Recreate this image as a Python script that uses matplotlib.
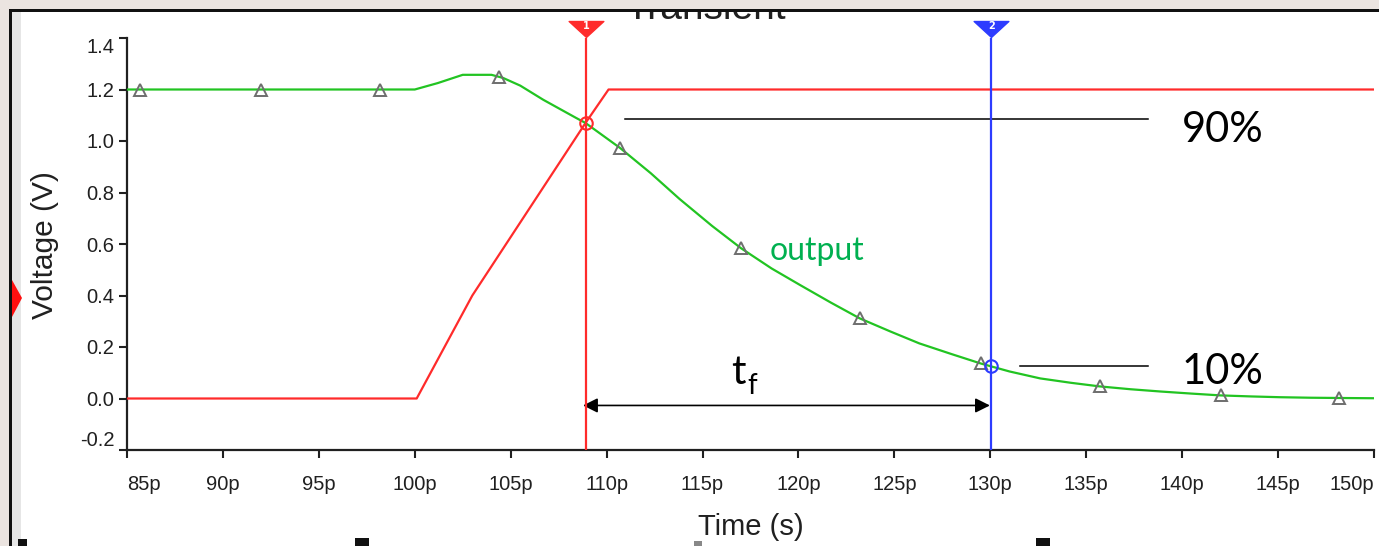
import numpy as np
import matplotlib
matplotlib.use("Agg")
import matplotlib.pyplot as plt
from matplotlib.patches import Rectangle, Polygon
from matplotlib.path import Path
import matplotlib.transforms as mtransforms

# ---------------- data ----------------
x_ticks = [85, 90, 95, 100, 105, 110, 115, 120, 125, 130, 135, 140, 145, 150]
x_tick_labels = ["85p", "90p", "95p", "100p", "105p", "110p", "115p", "120p",
                 "125p", "130p", "135p", "140p", "145p", "150p"]
y_ticks = [-0.2, 0.0, 0.2, 0.4, 0.6, 0.8, 1.0, 1.2, 1.4]
y_tick_labels = ["-0.2", "0.0", "0.2", "0.4", "0.6", "0.8", "1.0", "1.2", "1.4"]

input_t = [85.0, 100.1, 103.0, 108.9, 110.1, 150.0]
input_v = [0.0, 0.0, 0.40, 1.07, 1.2, 1.2]

output_t = [85.0, 100.0, 101.2, 102.5, 104.0, 104.6, 105.5, 106.7, 108.4, 108.9,
            110.7, 112.3, 113.8, 115.5, 117.0, 118.6, 120.1, 121.7, 123.2, 124.8,
            126.3, 128.0, 129.5, 131.0, 132.6, 134.2, 135.7, 137.3, 138.9, 140.5,
            142.0, 143.6, 145.1, 146.7, 148.2, 150.0]
output_v = [1.2, 1.2, 1.225, 1.257, 1.257, 1.245, 1.215, 1.16, 1.09, 1.07,
            0.973, 0.875, 0.775, 0.67, 0.584, 0.505, 0.44, 0.372, 0.311, 0.26,
            0.214, 0.172, 0.136, 0.105, 0.078, 0.061, 0.047, 0.036, 0.027, 0.019,
            0.012, 0.008, 0.005, 0.003, 0.002, 0.001]

marker_t = [85.7, 92.0, 98.2, 104.4, 110.7, 117.0, 123.2, 129.5, 135.7, 142.0, 148.2]

cursor1_t = 108.93
cursor2_t = 130.05

# ---------------- styles ----------------
W, H = 1379, 546
GREEN = "#22c422"
RED = "#ff2b2b"
BLUE = "#2d3cff"
TICKFONT = "Liberation Sans"
ANNFONT = "Lato"

fig = plt.figure(figsize=(W / 100, H / 100), dpi=100)
fig.patch.set_facecolor("white")

ax_l, ax_r, ax_t, ax_b = 127, 1374, 38, 450
ax = fig.add_axes([ax_l / W, 1 - ax_b / H, (ax_r - ax_l) / W, (ax_b - ax_t) / H])
ax.set_facecolor("white")
ax.set_xlim(85, 150)
ax.set_ylim(-0.2, 1.4)

for s in ["top", "right"]:
    ax.spines[s].set_visible(False)
for s in ["left", "bottom"]:
    ax.spines[s].set_linewidth(1.6)
    ax.spines[s].set_color("#202020")

ax.set_xticks(x_ticks)
ax.set_xticklabels(x_tick_labels, fontfamily=TICKFONT, fontsize=14.5)
ax.set_yticks(y_ticks)
ax.set_yticklabels(y_tick_labels, fontfamily=TICKFONT, fontsize=14.5)
ax.tick_params(axis="both", direction="out", length=6, width=1.5, color="#202020",
               labelcolor="#202020")
ax.tick_params(axis="x", pad=12)
ax.tick_params(axis="y", pad=3)

xl = ax.get_xticklabels()
xl[0].set_horizontalalignment("left")
xl[-1].set_horizontalalignment("right")
yl = ax.get_yticklabels()
yl[0].set_verticalalignment("bottom")
yl[-1].set_verticalalignment("top")

# curves
ax.plot(input_t, input_v, color=RED, lw=1.6, zorder=3)
ax.plot(output_t, output_v, color=GREEN, lw=1.6, zorder=4)
marker_v = np.interp(marker_t, output_t, output_v)
ax.plot(marker_t, marker_v, ls="none", marker="^", ms=8, mfc="none",
        mec="#6e6e6e", mew=1.4, zorder=5)

# cursors
ax.axvline(cursor1_t, color=RED, lw=1.6, zorder=6)
ax.axvline(cursor2_t, color=BLUE, lw=1.6, zorder=6)
c1v = np.interp(cursor1_t, output_t, output_v)
c2v = np.interp(cursor2_t, output_t, output_v)
ax.plot([cursor1_t], [c1v], marker="o", ms=9, mfc="none", mec=RED, mew=1.5, zorder=7)
ax.plot([cursor2_t], [c2v], marker="o", ms=9, mfc="none", mec=BLUE, mew=1.5, zorder=7)

tri = Path([(-1.0, 0.46), (1.0, 0.46), (0.0, -0.46), (-1.0, 0.46)],
           [Path.MOVETO, Path.LINETO, Path.LINETO, Path.CLOSEPOLY])
bt = mtransforms.blended_transform_factory(ax.transData, ax.transAxes)
for ct, col, lab in [(cursor1_t, RED, "1"), (cursor2_t, BLUE, "2")]:
    ax.plot([ct], [1.0 + 9 / 412], marker=tri, ms=25, color=col, mec=col,
            transform=bt, clip_on=False, zorder=8)
    ax.text(ct, 1.0 + 12 / 412, lab, transform=bt, color="white", fontsize=7,
            fontweight="bold", ha="center", va="center", clip_on=False, zorder=9,
            fontfamily="DejaVu Sans")

# annotations
ax.plot([110.96, 138.22], [1.086, 1.086], color="black", lw=1.1, zorder=5)
ax.plot([131.55, 138.22], [0.1245, 0.1245], color="black", lw=1.1, zorder=5)
ax.text(139.99, 0.996, "90%", fontfamily=ANNFONT, fontsize=30, va="baseline",
        ha="left", color="black")
ax.text(139.99, 0.058, "10%", fontfamily=ANNFONT, fontsize=30, va="baseline",
        ha="left", color="black")
ax.annotate("", xy=(108.77, -0.027), xytext=(129.98, -0.027),
            arrowprops=dict(arrowstyle="<|-|>", color="black", lw=1.2,
                            mutation_scale=22, shrinkA=0, shrinkB=0), zorder=5)
ax.text(116.5, 0.058, "t", fontfamily=ANNFONT, fontsize=29, va="baseline",
        ha="left", color="black")
ax.text(117.35, 0.019, "f", fontfamily=ANNFONT, fontsize=20, va="baseline",
        ha="left", color="black")
ax.text(118.52, 0.537, "output", fontfamily=ANNFONT, fontsize=23, va="baseline",
        ha="left", color="#00b050")

# axis labels
fig.text(45 / W, 1 - 245 / H, "Voltage (V)", rotation=90, ha="center", va="center",
         fontfamily=TICKFONT, fontsize=21.5, color="#202020")
fig.text(751 / W, 1 - 527 / H, "Time (s)", ha="center", va="center",
         fontfamily=TICKFONT, fontsize=21, color="#202020")
title = fig.text(705 / W, 1 - 19 / H, "Transient", ha="center", va="baseline",
                 fontfamily=TICKFONT, fontsize=28, color="#202020", zorder=2)


# screenshot frame
def px_rect(x, y, w, h, color, z=10):
    r = Rectangle((x / W, 1 - (y + h) / H), w / W, h / H, transform=fig.transFigure,
                  facecolor=color, edgecolor="none", zorder=z)
    fig.add_artist(r)


px_rect(0, 0, W, 9, "#ebe4e0")
px_rect(0, 0, 9, H, "#ebe4e0")
px_rect(9, 9, W - 9, 3, "#111111")
px_rect(9, 9, 3, H - 9, "#111111")
px_rect(12, 12, 9, H - 12, "#e6e6e6")
fig.add_artist(Polygon([(12 / W, 1 - 280 / H), (22 / W, 1 - 298 / H),
                        (12 / W, 1 - 317 / H)], closed=True,
                       transform=fig.transFigure, facecolor="#ff1010",
                       edgecolor="none", zorder=11))
px_rect(18, 539, 9, 7, "#111111")
px_rect(355, 538, 14, 8, "#111111")
px_rect(694, 541, 8, 5, "#888888")
px_rect(1036, 538, 14, 8, "#111111")

fig.savefig("out.png", dpi=100, facecolor="white")
